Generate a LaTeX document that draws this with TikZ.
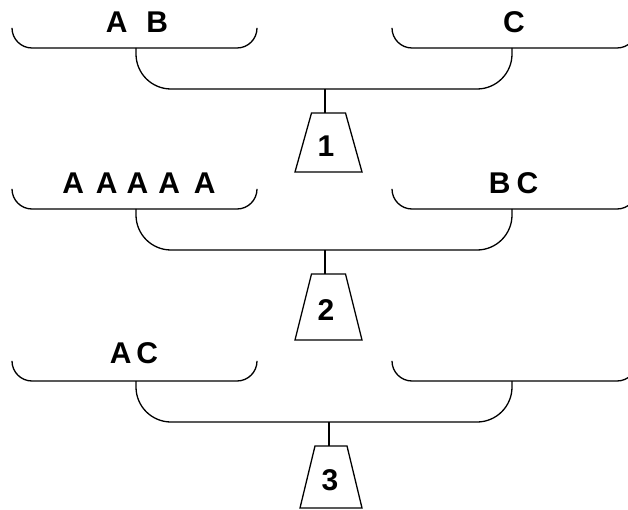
\documentclass[tikz,border=0pt]{standalone}
\usepackage{fontspec}
\setmainfont{Liberation Sans}
\usepackage{tikz}
\tikzset{>=latex}
\usetikzlibrary{calc}
\tikzset{
	pan/.style={line width=1.3bp,rounded corners=20bp},
	beam/.style={line width=1.3bp,rounded corners=35bp},
	weight/.style={line width=1.3bp},
	load/.style={font=\fontsize{30bp}{36bp}\bfseries\selectfont,anchor=base,inner sep=0pt},
	mass/.style={font=\fontsize{30bp}{36bp}\bfseries\selectfont,inner sep=0pt},
}

\begin{document}
\begin{tikzpicture}[x=1bp,y=-1bp]
		\clip (0,0) rectangle (628,510);
		\foreach \n/\ty/\hh/\px/\dx/\wt/\wb in {1/28/144/325/3.5/17/33.5, 2/189/151/325/3.5/17/33.5, 3/361/147/329/2/16/31}{
			\coordinate (L\n) at (136,\ty);
			\coordinate (R\n) at (512,\ty);
			\coordinate (P\n) at (\px,\ty+61);
			\coordinate (T\n) at (\px+\dx,\ty+85);
			% pans
			\draw[pan] ($(L\n)+(-124,0)$) -- ++(0,20) -- ($(L\n)+(121,20)$) -- ++(0,-20);
			\draw[pan] ($(R\n)+(-120,0)$) -- ++(0,20) -- ($(R\n)+(125,20)$) -- ++(0,-20);
			% beam and weight
			\draw[beam] ($(L\n)+(0,20)$) -- ($(L\n)+(0,61)$) -- ($(R\n)+(0,61)$) -- ($(R\n)+(0,20)$);
			\draw[weight] (P\n) -- +(0,24);
			\draw[weight] ($(T\n)+(-\wt,0)$) -- ($(T\n)+(\wt,0)$) -- ($(T\n)+(\wb,\hh-85)$) -- ($(T\n)+(-\wb,\hh-85)$) -- cycle;
			\node[mass] (W\n) at ($(P\n)+(1,{(\hh-61+24)/2+3.5})$) {\n};
		}
		\node[load] (left1) at ($(L1)+(1,5)$) {A\hspace{19bp}B};
		\node[load] (right1) at ($(R1)+(2,5)$) {C};
		\node[load] (left2) at ($(L2)+(3,5)$) {A\hspace{12bp}A\hspace{9bp}A\hspace{10bp}A\hspace{14bp}A};
		\node[load] (right2) at ($(R2)+(1.5,5)$) {B\hspace{6bp}C};
		\node[load] (left3) at ($(L3)+(-2,2)$) {A\hspace{5bp}C};
	\end{tikzpicture}
\end{document}
